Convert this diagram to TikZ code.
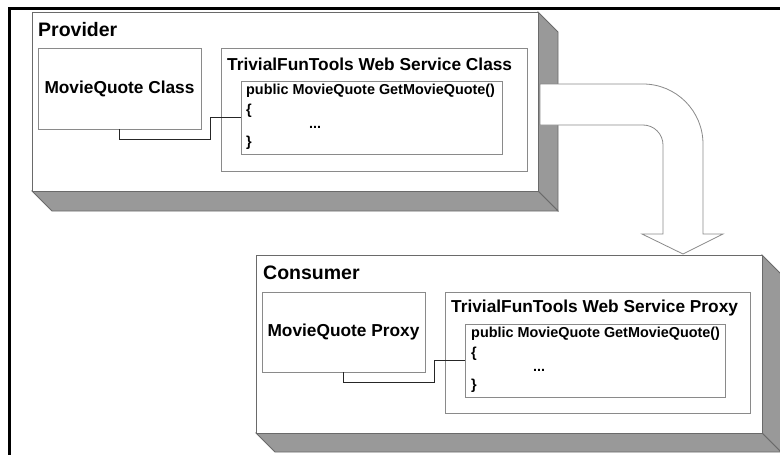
\documentclass[tikz,border=0pt]{standalone}
\usepackage{fontspec}
\setmainfont{Liberation Sans}
\definecolor{slab}{HTML}{999999}
\definecolor{edge}{HTML}{6A6A6A}
\definecolor{boxline}{HTML}{8A8A8A}
\begin{document}
\begin{tikzpicture}[x=1pt,y=-1pt,
  front/.style={draw=edge, fill=white, line width=0.8pt},
  sideface/.style={draw=edge, fill=slab, line width=0.8pt},
  inbox/.style={draw=boxline, fill=white, line width=0.9pt, inner sep=0pt},
  heading/.style={font=\fontsize{19.5}{22}\selectfont\bfseries, anchor=base west, inner sep=0pt},
  btitle/.style={font=\fontsize{17.3}{20}\selectfont\bfseries, anchor=west, inner sep=0pt},
  codetxt/.style={font=\fontsize{14.4}{16}\selectfont\bfseries, anchor=west, inner sep=0pt},
  wire/.style={draw=black!85, line width=1.1pt},
  bigarrow/.style={draw=boxline, fill=white, line width=0.8pt, line join=miter}
]
\useasboundingbox (0,0) rectangle (780,455);
\begin{scope}
\clip (0,0) rectangle (780,455);
% frame
\draw[line width=3pt] (9.5,455) -- (9.5,8.5) -- (780,8.5);

% ---------- Provider slab ----------
\path[sideface] (538,12) -- (558,32) -- (558,211) -- (538,191) -- cycle;
\path[sideface] (32,191) -- (52,211) -- (558,211) -- (538,191) -- cycle;
\node[front, minimum width=506pt, minimum height=179pt, inner sep=0pt] (prov) at (285,101.5) {};
\node[heading] (provt) at (38,36) {Provider};

\node[inbox, minimum width=163pt, minimum height=81pt,
      font=\fontsize{17.3}{20}\selectfont\bfseries] (mqc) at (119.5,88.5) {MovieQuote Class};
\node[inbox, minimum width=306pt, minimum height=123pt] (wsc) at (374,109.5) {};
\node[btitle] (wsct) at (227,64) {TrivialFunTools Web Service Class};
\node[inbox, minimum width=261pt, minimum height=73pt] (code1) at (371.5,117.5) {};
\node[codetxt] (c1a) at (246,91) {public MovieQuote GetMovieQuote()};
\node[codetxt] (c1b) at (246,111) {\{};
\node[codetxt] (c1c) at (309,127) {...};
\node[codetxt] (c1d) at (246,143) {\}};
\draw[wire] (mqc.south) -- ++(0,10) -| ([xshift=-30pt]code1.west) -- (code1.west);

% ---------- big arrow ----------
\path[bigarrow] (540,84) -- (643,84) arc[start angle=-90, end angle=0, radius=60] -- (703,234)
  -- (723,234) -- (683,254) -- (642,234) -- (663,234) -- (663,145)
  arc[start angle=0, end angle=-90, radius=20] -- (540,125) -- cycle;

% ---------- Consumer slab ----------
\path[sideface] (762,255) -- (781,274) -- (781,452) -- (762,433) -- cycle;
\path[sideface] (256,433) -- (275,452) -- (781,452) -- (762,433) -- cycle;
\node[front, minimum width=506pt, minimum height=178pt, inner sep=0pt] (cons) at (509,344) {};
\node[heading] (const) at (263,279) {Consumer};

\node[inbox, minimum width=163pt, minimum height=80pt,
      font=\fontsize{17.3}{20}\selectfont\bfseries] (mqp) at (343.5,332) {MovieQuote Proxy};
\node[inbox, minimum width=305pt, minimum height=121pt] (wsp) at (597.5,352.5) {};
\node[btitle] (wspt) at (451,308) {TrivialFunTools Web Service Proxy};
\node[inbox, minimum width=260pt, minimum height=73pt] (code2) at (595,360.5) {};
\node[codetxt] (c2a) at (471,334) {public MovieQuote GetMovieQuote()};
\node[codetxt] (c2b) at (471,354) {\{};
\node[codetxt] (c2c) at (533,370) {...};
\node[codetxt] (c2d) at (471,386) {\}};
\draw[wire] (mqp.south) -- ++(0,10) -| ([xshift=-30pt]code2.west) -- (code2.west);
\end{scope}
\end{tikzpicture}
\end{document}
